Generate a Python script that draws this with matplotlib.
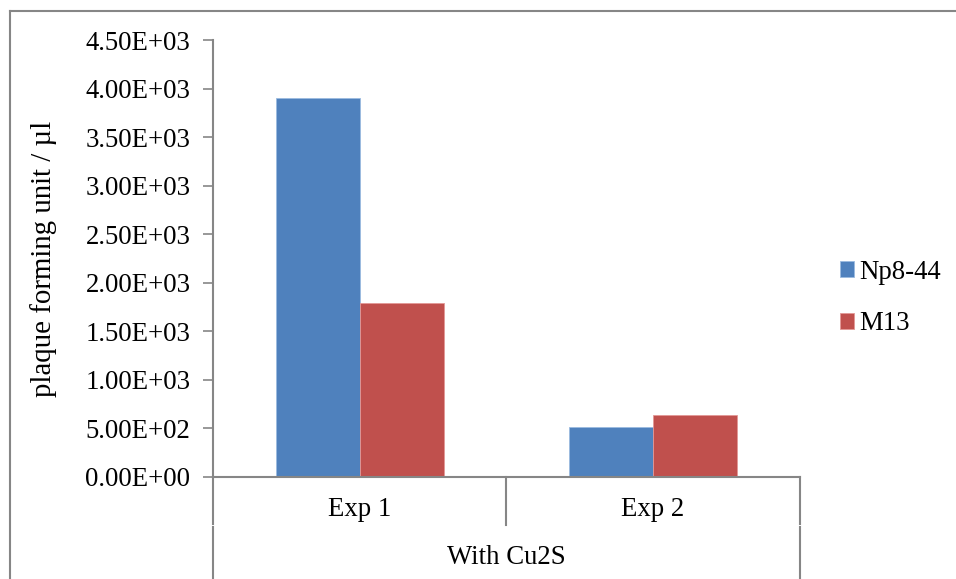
import numpy as np
import matplotlib.pyplot as plt
from matplotlib.lines import Line2D
from matplotlib.ticker import FuncFormatter

plt.rcParams['font.family'] = ['Liberation Serif', 'DejaVu Serif']

# plaque counts per experiment
categories = ["Exp 1", "Exp 2"]
group_label = "With Cu2S"
np8_44 = [3900, 520]
m13 = [1790, 635]
series_names = ["Np8-44", "M13"]

blue = "#4f81bd"
red = "#c0504d"
grey = "#868686"
fs = 19.3

W, H = 956, 579
fig = plt.figure(figsize=(W / 100, H / 100), dpi=100)
ax = fig.add_axes([213 / W, 1 - 477 / H, (800 - 213) / W, (477 - 40) / H])

x = np.arange(len(categories))
bw = 0.287
ax.bar(x - bw / 2, np8_44, bw, color=blue, edgecolor="#9bbbe0", linewidth=0.6, label=series_names[0])
ax.bar(x + bw / 2, m13, bw, color=red, edgecolor="#e39896", linewidth=0.6, label=series_names[1])

ax.set_xlim(-0.5, 1.5)
ax.set_ylim(0, 4500)
ax.set_yticks(np.arange(0, 4501, 500))
ax.yaxis.set_major_formatter(FuncFormatter(lambda v, p: "%.2E" % v))
ax.tick_params(axis="y", length=7.2, width=1.2, color=grey, labelsize=fs, pad=9)
ax.set_xticks([])

for side in ["top", "right"]:
    ax.spines[side].set_visible(False)
for side in ["left", "bottom"]:
    ax.spines[side].set_color(grey)
    ax.spines[side].set_linewidth(1.5)

ax.set_ylabel("plaque forming unit / µl", fontsize=20.8)
ax.yaxis.set_label_coords((57 - 213) / (800 - 213), 0.5)


def fy(py):
    return 1 - py / H


# multi-level category axis below the plot
ys0 = fy(477)
xs = [213 / W, 506 / W, 800 / W]
fig.add_artist(Line2D([xs[1], xs[1]], [ys0, fy(525)], color=grey, lw=1.5))
for xv in (xs[0], xs[2]):
    fig.add_artist(Line2D([xv, xv], [ys0, fy(524)], color=grey, lw=1.5))
    fig.add_artist(Line2D([xv, xv], [fy(527), 0], color=grey, lw=1.5))

for i, cat in enumerate(categories):
    fig.text((xs[i] + xs[i + 1]) / 2, fy(509), cat, fontsize=fs, ha="center", va="center")
fig.text((xs[0] + xs[2]) / 2, fy(558), group_label, fontsize=fs, ha="center", va="center")

# outer frame
fig.add_artist(Line2D([9.5 / W, 9.5 / W], [0, fy(10.5)], color=grey, lw=1.5))
fig.add_artist(Line2D([9.5 / W, 1], [fy(10.5), fy(10.5)], color=grey, lw=1.5))

fig.legend(loc="center left", bbox_to_anchor=(816 / W, fy(298)), frameon=False,
           fontsize=fs, handlelength=0.5, handleheight=0.5, handletextpad=0.2,
           labelspacing=1.0)

fig.savefig("out.png", dpi=100)
